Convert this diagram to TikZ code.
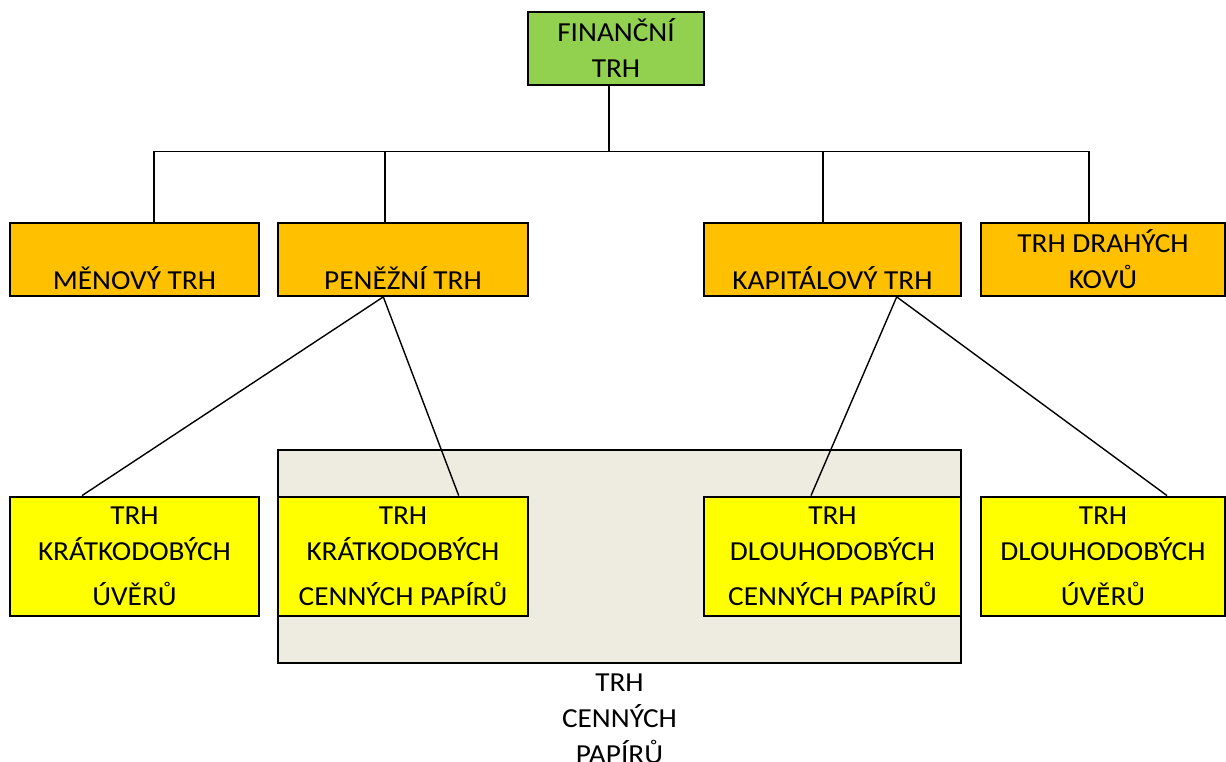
\documentclass[tikz,border=0pt]{standalone}
\usepackage{fontspec}
\setmainfont{Carlito}[FakeStretch=1.065]
\usepackage{tikz}
\definecolor{fingreen}{HTML}{92D050}
\definecolor{mktorange}{HTML}{FFC000}
\definecolor{leafyellow}{HTML}{FFFF00}
\definecolor{cpgray}{HTML}{EEECE1}

\begin{document}
\begin{tikzpicture}[x=1pt, y=-1pt,
    every node/.style={font=\fontsize{27.5}{36}\selectfont, align=center},
    box/.style={draw, line width=2.2pt, inner sep=0pt, minimum height=73pt},
    mkt/.style={box, fill=mktorange},
    leaf/.style={box, fill=leafyellow, minimum height=119pt},
    wire/.style={line width=1.4pt}]
        \useasboundingbox (0,0) rectangle (1226,762);

        \node[draw, line width=2.2pt, fill=cpgray, minimum width=683pt,
          minimum height=212.7pt] (cp) at (619.5,556.3) {};
        \node[anchor=north, inner sep=0pt] (cplabel) at ([yshift=-10]cp.south)
          {TRH\\CENNÝCH\\PAPÍRŮ};

        \node[box, fill=fingreen, minimum width=176pt] (fin) at (616,48.5) {FINANČNÍ\\TRH};

        \node[mkt, minimum width=249pt] (men) at (134.5,259.3) {\strut\\MĚNOVÝ TRH};
        \node[mkt, minimum width=250pt] (pen) at (403,259.3) {\strut\\PENĚŽNÍ TRH};
        \node[mkt, minimum width=257pt] (kap) at (832.5,259.3) {\strut\\KAPITÁLOVÝ TRH};
        \node[mkt, minimum width=244pt] (dra) at (1103,259.3) {TRH DRAHÝCH\\KOVŮ};

        \node[leaf, minimum width=249pt] (kru) at (134.5,556.2)
          {TRH\\KRÁTKODOBÝCH\\[9pt]ÚVĚRŮ};
        \node[leaf, minimum width=250pt] (kcp) at (403,556.2)
          {TRH\\KRÁTKODOBÝCH\\[9pt]CENNÝCH PAPÍRŮ};
        \node[leaf, minimum width=257pt] (dcp) at (832.5,556.2)
          {TRH\\DLOUHODOBÝCH\\[9pt]CENNÝCH PAPÍRŮ};
        \node[leaf, minimum width=244pt] (duv) at (1103,556.2)
          {TRH\\DLOUHODOBÝCH\\[9pt]ÚVĚRŮ};

        \draw[wire] ([xshift=-7]fin.south) -- ++(0,65.7) coordinate (hub);
        \draw[wire] ([xshift=19.5]men.north) |- (hub);
        \draw[wire] ([xshift=-18]pen.north) |- (hub);
        \draw[wire] ([xshift=-9.5]kap.north) |- (hub);
        \draw[wire] ([xshift=-14]dra.north) |- (hub);

        \draw[wire] ([xshift=-19.7]pen.south) -- ([xshift=-52.5]kru.north);
        \draw[wire] ([xshift=-19.7]pen.south) -- ([xshift=55.7]kcp.north);
        \draw[wire] ([xshift=64.2]kap.south) -- ([xshift=-21.5]dcp.north);
        \draw[wire] ([xshift=64.2]kap.south) -- ([xshift=64]duv.north);
      \end{tikzpicture}
\end{document}
